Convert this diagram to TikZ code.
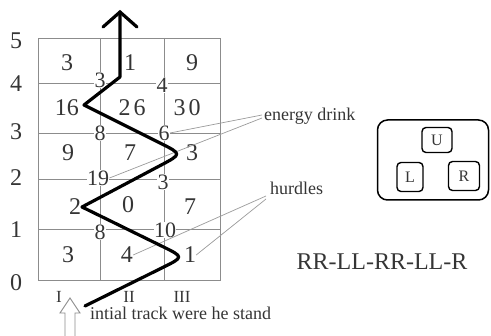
\documentclass[tikz,border=0pt]{standalone}
\usepackage{fontspec}
\setmainfont{Liberation Serif}
\usetikzlibrary{calc}
\definecolor{txt}{HTML}{353535}
\definecolor{gridc}{HTML}{8C8C8C}
\definecolor{leadc}{HTML}{9A9A9A}
\tikzset{
  cellnum/.style={text=txt,inner sep=0pt,font=\fontsize{24}{24}\selectfont},
  linenum/.style={text=txt,fill=white,inner sep=0.3pt,font=\fontsize{22}{22}\selectfont},
  axisnum/.style={text=txt,inner sep=0pt,font=\fontsize{24}{24}\selectfont},
  collab/.style={text=txt,inner sep=0pt,font=\fontsize{17}{17}\selectfont},
  note/.style={text=txt,inner sep=0pt,font=\fontsize{18}{18}\selectfont},
  gridline/.style={draw=gridc,line width=0.9pt},
  leader/.style={draw=leadc,line width=0.7pt},
  track/.style={draw=black,line width=3.2pt,line join=round,line cap=round},
  keybox/.style={draw=black,line width=1.4pt,rounded corners=4pt,text=txt,font=\fontsize{16}{16}\selectfont},
}
\begin{document}
\begin{tikzpicture}[x=1pt,y=-1pt]
\useasboundingbox (0,0) rectangle (491,336);
% grid
\draw[gridline] (38,38) rectangle (220,280);
\draw[gridline] (100,38) -- (100,280);
\draw[gridline] (164,38) -- (164,280);
\foreach \yy in {83,133,179,229} {\draw[gridline] (38,\yy) -- (220,\yy);}
% axis numbers
\node[axisnum] (y5) at (16,41) {5};
\node[axisnum] (y4) at (16,84) {4};
\node[axisnum] (y3) at (16,132) {3};
\node[axisnum] (y2) at (16,178) {2};
\node[axisnum] (y1) at (16,230) {1};
\node[axisnum] (y0) at (16,283) {0};
\node[collab] (cI) at (59,297) {I};
\node[collab] (cII) at (129,297) {II};
\node[collab] (cIII) at (182,297) {III};
% cell numbers
\node[cellnum] (a1) at (67,63) {3};
\node[cellnum] (a2) at (130,63) {1};
\node[cellnum] (a3) at (192,63) {9};
\node[cellnum] (b1) at (67,108) {16};
\node[cellnum] (b2) at (132,108) {2\kern3pt 6};
\node[cellnum] (b3) at (187,108) {3\kern3pt 0};
\node[cellnum] (c1) at (68,153) {9};
\node[cellnum] (c2) at (130,153) {7};
\node[cellnum] (c3) at (192,153) {3};
\node[cellnum] (d1) at (75,207) {2};
\node[cellnum] (d2) at (128,205) {0};
\node[cellnum] (d3) at (190,207) {7};
\node[cellnum] (e1) at (68,255) {3};
\node[cellnum] (e2) at (127,255) {4};
\node[cellnum] (e3) at (190,255) {1};
% numbers on lines
\node[linenum] (h1) at (100,80) {3};
\node[linenum] (h2) at (162,85) {4};
\node[linenum] (h3) at (100,133) {8};
\node[linenum] (h4) at (164,133) {6};
\node[linenum] (h5) at (98,178) {19};
\node[linenum] (h6) at (163,182) {3};
\node[linenum] (h7) at (100,232) {8};
\node[linenum] (h8) at (165,230) {10};
% labels
\node[note,anchor=west] (energy) at (264,116) {energy drink};
\node[note,anchor=west] (hurdles) at (270,188) {hurdles};
\node[note,anchor=base west] (initial) at (90,320) {intial track were he stand};
\node[text=txt,inner sep=0pt,font=\fontsize{24}{24}\selectfont] (seq) at (382,262) {RR-LL-RR-LL-R};
% leaders
\coordinate (en1) at (262,115);
\coordinate (en2) at (262,118);
\coordinate (hu1) at (266,196);
\coordinate (hu2) at (266,199);
\draw[leader] (en1) -- (h4.east);
\draw[leader] (en2) -- (h5.east);
\draw[leader] (hu1) -- (e2.east);
\draw[leader] (hu2) -- (e3.east);
% track
\coordinate (s) at (85,306);
\coordinate (r1) at (184,257);
\coordinate (l1) at (82,207);
\coordinate (r2) at (182,154);
\coordinate (l2) at (84,105);
\coordinate (t) at (120,77);
\coordinate (top) at (120,12);
\coordinate (wl) at (103,27);
\coordinate (wr) at (137,27);
\draw[track] (s) -- ($(r1)!24pt!(s)$) .. controls (r1) .. ($(r1)!24pt!(l1)$) -- (l1)
  -- ($(r2)!24pt!(l1)$) .. controls (r2) .. ($(r2)!24pt!(l2)$) -- (l2) -- (t) -- (top);
\draw[track,line join=miter] (wl) -- (top) -- (wr);
% hollow start arrow
\draw[draw=gridc,line width=0.9pt,fill=white] (65,337) -- (65,313) -- (60,313) -- (70,298) -- (80,313) -- (75,313) -- (75,337);
% key
\node[draw=black,line width=1.5pt,rounded corners=10pt,minimum width=111,minimum height=80] (key) at (433,160) {};
\node[keybox,minimum width=30,minimum height=25] (kU) at (437,140) {U};
\node[keybox,minimum width=26,minimum height=29] (kL) at (410,177) {L};
\node[keybox,minimum width=31,minimum height=29] (kR) at (464,176) {R};
\end{tikzpicture}
\end{document}
